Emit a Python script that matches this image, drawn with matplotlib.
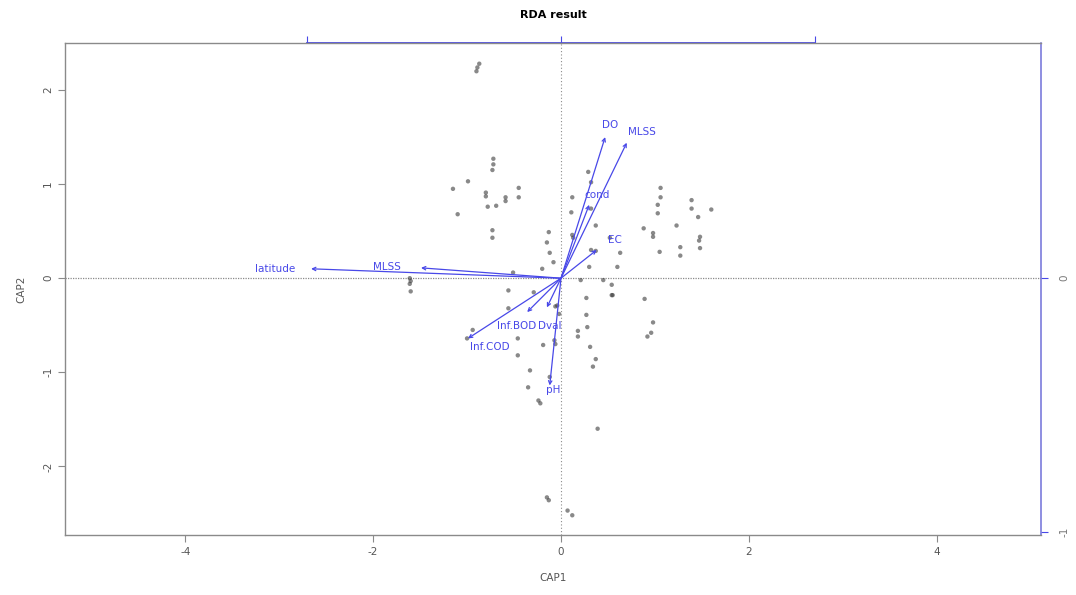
import matplotlib
matplotlib.use("Agg")
import matplotlib.pyplot as plt
import numpy as np

plt.rcParams["axes.unicode_minus"] = False

# site scores (CAP1, CAP2)
site_x = [-0.89, -0.87, -0.90, -0.72, -0.72, -0.73, -0.99, -1.15, -0.80, -0.80,
          -0.59, -0.59, -0.45, -0.45, -0.78, -0.69, -1.10, -0.73, -0.73, -0.51,
          -1.61, -1.60, -1.61, -1.60, -0.56, -0.29,
          0.29, 0.32, 0.12, 0.11, 0.32, 0.37, 0.12, 0.13,
          -0.13, -0.15, -0.12, -0.08, -0.20,
          0.32, 0.37, 0.30, 0.52, 0.63, 0.60,
          0.21, 0.45, 0.54, 0.54,
          1.06, 1.06, 1.03, 1.03, 1.39, 1.39, 1.46, 1.60,
          0.88, 0.98, 0.98, 1.23, 1.05, 1.27, 1.27, 1.48, 1.47, 1.48,
          0.27, 0.55, 0.89, 0.27, 0.28, 0.18, 0.18, 0.31, 0.37, 0.34,
          0.98, 0.96, 0.92, 0.39,
          -0.15, -0.13, 0.07, 0.12,
          -0.04, -0.06, -0.02, -0.07, -0.06, -0.12, -0.19,
          -0.56, -0.94, -1.00, -0.46, -0.46, -0.33, -0.35, -0.24, -0.22]
site_y = [2.24, 2.28, 2.20, 1.27, 1.21, 1.15, 1.03, 0.95, 0.91, 0.87,
          0.86, 0.82, 0.96, 0.86, 0.76, 0.77, 0.68, 0.51, 0.43, 0.06,
          0.00, -0.03, -0.06, -0.14, -0.13, -0.15,
          1.13, 1.02, 0.86, 0.70, 0.74, 0.56, 0.46, 0.43,
          0.49, 0.38, 0.27, 0.17, 0.10,
          0.30, 0.29, 0.12, 0.43, 0.27, 0.12,
          -0.02, -0.02, -0.07, -0.18,
          0.96, 0.86, 0.78, 0.69, 0.83, 0.74, 0.65, 0.73,
          0.53, 0.48, 0.44, 0.56, 0.28, 0.33, 0.24, 0.44, 0.40, 0.32,
          -0.21, -0.18, -0.22, -0.39, -0.52, -0.56, -0.62, -0.73, -0.86, -0.94,
          -0.47, -0.58, -0.62, -1.60,
          -2.33, -2.36, -2.47, -2.52,
          -0.29, -0.30, -0.38, -0.66, -0.70, -1.05, -0.71,
          -0.32, -0.55, -0.64, -0.64, -0.82, -0.98, -1.16, -1.30, -1.33]

# environmental vectors: arrow tips and label positions
env_names = ["latitude", "MLSS", "DO", "MLSS", "cond", "EC",
             "Inf.BOD", "Dval", "Inf.COD", "pH"]
env_x = [-2.66, -1.49, 0.47, 0.70, 0.30, 0.38, -0.36, -0.15, -0.99, -0.12]
env_y = [0.10, 0.11, 1.50, 1.44, 0.78, 0.30, -0.36, -0.31, -0.64, -1.14]
lab_x = [-3.04, -1.85, 0.52, 0.86, 0.38, 0.57, -0.47, -0.12, -0.76, -0.08]
lab_y = [0.10, 0.12, 1.63, 1.55, 0.88, 0.41, -0.51, -0.51, -0.73, -1.19]

# biplot axis scaling
bp_mult = 2.7
bp_ticks = [-1, 0, 1]
right_ticks = [-1, 0]

xlim = (-5.28, 5.11)
ylim = (-2.73, 2.50)
grey = "#8a8a8a"
blue = "#4848e8"

fig = plt.figure(figsize=(10.76, 5.95), dpi=100)
ax = fig.add_axes([0.0604, 0.1008, 0.9071, 0.8269])
ax.set_xlim(xlim)
ax.set_ylim(ylim)

ax.axvline(0, color=grey, lw=0.8, ls=(0, (1, 2)))
ax.axhline(0, color=grey, lw=0.9, ls=(0, (1, 1)))

ax.scatter(site_x, site_y, s=10, color="#3a3a3a", alpha=0.6, edgecolors="none", zorder=3)

for x, y in zip(env_x, env_y):
    ax.annotate("", xy=(x, y), xytext=(0, 0),
                arrowprops=dict(arrowstyle="->", color=blue, lw=0.9,
                                mutation_scale=6, shrinkA=0, shrinkB=0), zorder=4)
for name, x, y in zip(env_names, lab_x, lab_y):
    ax.text(x, y, name, color=blue, fontsize=7.5, ha="center", va="center", zorder=5)

for side in ["left", "bottom", "top", "right"]:
    ax.spines[side].set_color(grey)
    ax.spines[side].set_linewidth(1.0)
ax.spines["right"].set_visible(False)

ax.set_xticks([-4, -2, 0, 2, 4])
ax.set_yticks([-2, -1, 0, 1, 2])
ax.tick_params(colors=grey, labelcolor="#555555", labelsize=7.5, length=5, width=0.8)
plt.setp(ax.get_yticklabels(), rotation=90, va="center")

# biplot scale on top and right
top = ax.secondary_xaxis("top", functions=(lambda v: v / bp_mult, lambda v: v * bp_mult))
top.set_xticks(bp_ticks)
top.set_xticklabels([])
top.tick_params(colors=blue, length=5, width=0.8)
top.spines["top"].set_color(blue)
top.spines["top"].set_linewidth(1.3)
top.spines["top"].set_bounds(bp_ticks[0], bp_ticks[-1])
top.spines["top"].set_zorder(10)

right = ax.secondary_yaxis("right", functions=(lambda v: v / bp_mult, lambda v: v * bp_mult))
right.set_yticks(right_ticks)
right.set_yticklabels([str(t) for t in right_ticks])
right.tick_params(colors=blue, labelcolor="#777777", labelsize=7.5, length=5, width=0.8, pad=8)
plt.setp(right.get_yticklabels(), rotation=90, va="center")
right.spines["right"].set_color("#7070d8")
right.spines["right"].set_linewidth(1.1)

ax.set_xlabel("CAP1", fontsize=7.5, color="#555555", labelpad=12)
ax.set_ylabel("CAP2", fontsize=7.5, color="#555555", labelpad=12)
ax.set_title("RDA result", fontsize=8, fontweight="bold", pad=18)

fig.savefig("out.png", dpi=100, facecolor="white")
